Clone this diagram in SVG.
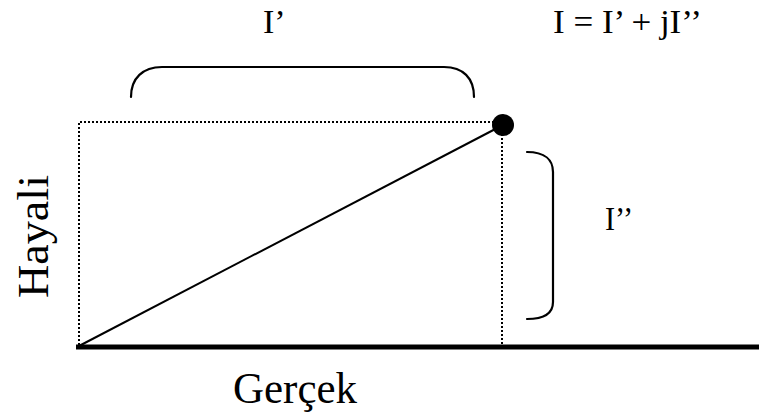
<svg xmlns="http://www.w3.org/2000/svg" width="759" height="417" viewBox="0 0 759 417">
<style>
.t{font-family:"Liberation Serif","Times New Roman",serif;fill:#000}
.dot{fill:none;stroke:#000;stroke-width:2;stroke-dasharray:2 2}
.br{fill:none;stroke:#000;stroke-width:2.2;stroke-linecap:round}
</style>
<rect width="759" height="417" fill="#fff"/>
<g id="connectors">
<path class="dot" d="M79,345 V122 H500"/>
<path class="dot" d="M502,134 V345"/>
<line x1="79" y1="346" x2="503" y2="125" stroke="#000" stroke-width="2"/>
<line x1="76" y1="347" x2="759" y2="347" stroke="#000" stroke-width="5"/>
</g>
<g id="point"><circle cx="503" cy="125" r="11" fill="#000"/></g>
<g id="brace-real"><path class="br" d="M131,97 C131,78 143,67 162,67 H444 C463,67 474,78 474,97"/></g>
<g id="brace-imag"><path class="br" d="M527,152 C545,152 553,160 553,172 V302 C553,313 545,319 527,319"/></g>
<g id="labels">
<text class="t" x="263" y="33" font-size="34">I’</text>
<text class="t" x="553" y="33" font-size="34" textLength="149" lengthAdjust="spacingAndGlyphs">I = I’ + jI’’</text>
<text class="t" x="605" y="230" font-size="34" textLength="28" lengthAdjust="spacingAndGlyphs">I’’</text>
<text class="t" x="233" y="403" font-size="44" textLength="124" lengthAdjust="spacingAndGlyphs">Gerçek</text>
<text class="t" transform="translate(48,298) rotate(-90)" font-size="44" textLength="123" lengthAdjust="spacingAndGlyphs">Hayali</text>
</g>
</svg>
